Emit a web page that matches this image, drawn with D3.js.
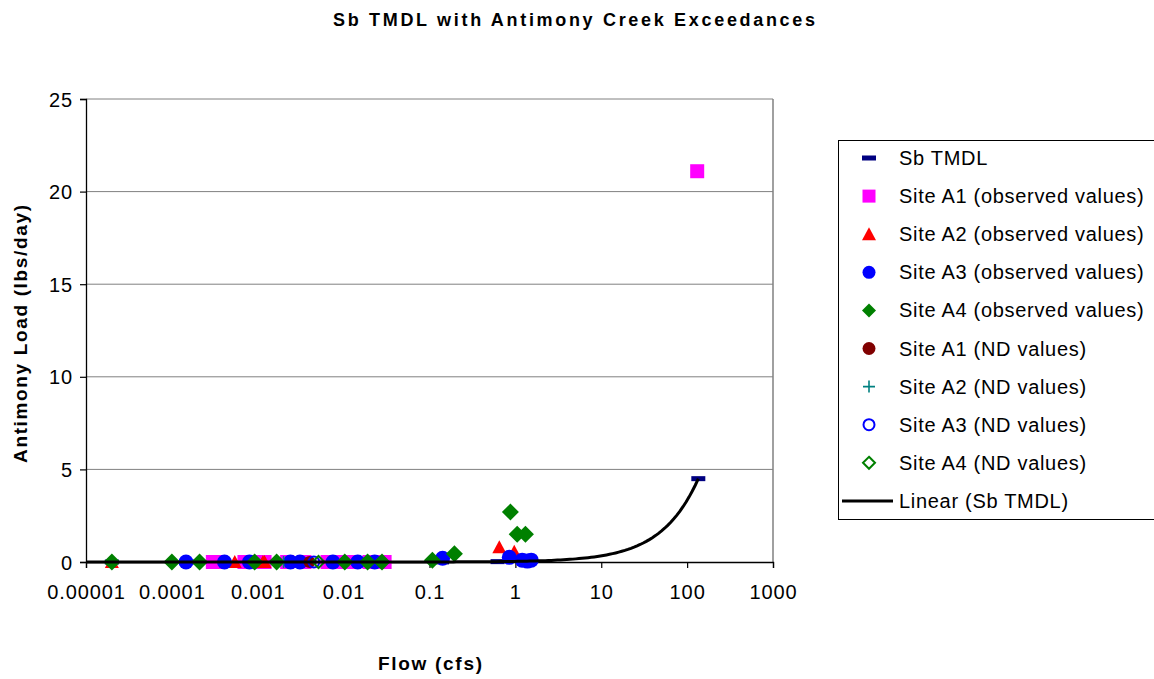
<!DOCTYPE html>
<html><head><meta charset="utf-8">
<script src="https://cdn.jsdelivr.net/npm/d3@7"></script>
<style>body{margin:0;background:#fff}svg{display:block;font-family:"Liberation Sans",Arial,sans-serif}</style>
</head><body><svg id="c" width="1154" height="679"></svg>
<script>
// ---------- data (flow in cfs, load in lbs/day) ----------
const xTickValues = [1e-5,1e-4,1e-3,1e-2,1e-1,1,10,100,1000];
const xTickLabels = ["0.00001","0.0001","0.001","0.01","0.1","1","10","100","1000"];
const yTickValues = [0,5,10,15,20,25];

const tmdlFlow = [0.00002,0.00015,0.0003,0.0009,0.002,0.004,0.01,0.028,0.14,0.62,1.5,135];
const tmdlLoad = [0,0,0,0,0,0,0,0.001,0.005,0.02,0.05,4.5];

const a1ObsFlow = [0.0003,0.00036,0.0007,0.00085,0.0012,0.0022,0.0035,0.0065,0.009,0.013,0.02,0.028,0.03,131];
const a1ObsLoad = [0,0,0,0,0,0,0,0,0,0,0,0,0,21.1];

const a2ObsFlow = [0.00002,0.00054,0.00115,0.0012,0.65,0.97];
const a2ObsLoad = [0,0,0,0,0.8,0.55];

const a3ObsFlow = [0.000146,0.00041,0.0008,0.0024,0.0031,0.0075,0.0146,0.023,0.142,0.85,1.2,1.38,1.53];
const a3ObsLoad = [0,0,0,0,0,0,0,0,0.2,0.25,0.1,0.05,0.1];

const a4ObsFlow = [0.00002,0.0001,0.00021,0.00092,0.00166,0.0103,0.019,0.028,0.108,0.195,0.875,1.05,1.31];
const a4ObsLoad = [0,0,0,0,0,0,0,0,0.1,0.45,2.7,1.5,1.5];

const a1NdFlow = [0.004];  const a1NdLoad = [0];
const a2NdFlow = [0.002];  const a2NdLoad = [0];
const a3NdFlow = [0.0045]; const a3NdLoad = [0];
const a4NdFlow = [0.0051]; const a4NdLoad = [0];

const legendLabels = ["Sb TMDL","Site A1 (observed values)","Site A2 (observed values)","Site A3 (observed values)",
  "Site A4 (observed values)","Site A1 (ND values)","Site A2 (ND values)","Site A3 (ND values)","Site A4 (ND values)","Linear (Sb TMDL)"];

// ---------- chart ----------
const svg = d3.select("#c");
svg.append("rect").attr("width",1154).attr("height",679).attr("fill","#fff");
const L=86, R=773, T=99, B=562;
const x = d3.scaleLog().domain([1e-5,1e3]).range([L,R]);
const y = d3.scaleLinear().domain([0,25]).range([B,T]);

// gridlines
svg.append("g").selectAll("line").data(yTickValues.filter(v=>v>0)).join("line")
  .attr("x1",L).attr("x2",R).attr("y1",d=>y(d)).attr("y2",d=>y(d))
  .attr("stroke","#808080").attr("stroke-width",1);
svg.append("line").attr("x1",R).attr("x2",R).attr("y1",T).attr("y2",B).attr("stroke","#808080").attr("stroke-width",1.5);

// axes
const yAxis = svg.append("g").attr("transform",`translate(${L},0)`)
  .call(d3.axisLeft(y).tickValues(yTickValues).tickSize(6).tickPadding(8).tickFormat(d3.format("d")));
const xAxis = svg.append("g").attr("transform",`translate(0,${B})`)
  .call(d3.axisBottom(x).tickValues(xTickValues).tickSize(6).tickFormat((d,i)=>xTickLabels[i]));
[yAxis,xAxis].forEach(g=>{
  g.select(".domain").attr("stroke","#000").attr("stroke-width",1.3);
  g.selectAll(".tick line").attr("stroke","#000").attr("stroke-width",1.2);
  g.selectAll("text").attr("font-size",20).attr("letter-spacing","0.9px").attr("fill","#000")
    .attr("font-family","Liberation Sans, Arial, sans-serif");
});
xAxis.selectAll("text").attr("y",30).attr("dy","0.35em");
yAxis.selectAll("text").attr("x",-13).attr("dy","0.35em");

const plot = svg.append("g");
function pts(fx, ly){ return fx.map((f,i)=>[x(f), y(ly[i])]); }

plot.append("g").selectAll("rect").data(pts(tmdlFlow,tmdlLoad)).join("rect")
  .attr("x",d=>d[0]-7).attr("y",d=>d[1]-2.5).attr("width",14).attr("height",5).attr("fill","#000080");
plot.append("g").selectAll("rect").data(pts(a1ObsFlow,a1ObsLoad)).join("rect")
  .attr("x",d=>d[0]-7).attr("y",d=>d[1]-7).attr("width",14).attr("height",14).attr("fill","#ff00ff");
plot.append("g").selectAll("path").data(pts(a2ObsFlow,a2ObsLoad)).join("path")
  .attr("transform",d=>`translate(${d[0]},${d[1]})`).attr("d","M0,-7L7,6L-7,6Z").attr("fill","#ff0000");
plot.append("g").selectAll("circle").data(pts(a3ObsFlow,a3ObsLoad)).join("circle")
  .attr("cx",d=>d[0]).attr("cy",d=>d[1]).attr("r",7.5).attr("fill","#0000ff");
plot.append("g").selectAll("path").data(pts(a4ObsFlow,a4ObsLoad)).join("path")
  .attr("transform",d=>`translate(${d[0]},${d[1]})`).attr("d","M0,-8.5L8.5,0L0,8.5L-8.5,0Z").attr("fill","#008000");
plot.append("g").selectAll("circle").data(pts(a1NdFlow,a1NdLoad)).join("circle")
  .attr("cx",d=>d[0]).attr("cy",d=>d[1]).attr("r",6).attr("fill","#800000");
plot.append("g").selectAll("path").data(pts(a2NdFlow,a2NdLoad)).join("path")
  .attr("transform",d=>`translate(${d[0]},${d[1]})`).attr("d","M-6,0H6M0,-6V6").attr("stroke","#008080").attr("stroke-width",1.6).attr("fill","none");
plot.append("g").selectAll("circle").data(pts(a3NdFlow,a3NdLoad)).join("circle")
  .attr("cx",d=>d[0]).attr("cy",d=>d[1]).attr("r",5.5).attr("fill","none").attr("stroke","#0000ff").attr("stroke-width",2);
plot.append("g").selectAll("path").data(pts(a4NdFlow,a4NdLoad)).join("path")
  .attr("transform",d=>`translate(${d[0]},${d[1]})`).attr("d","M0,-6L6,0L0,6L-6,0Z").attr("fill","none").attr("stroke","#008000").attr("stroke-width",2);

// Linear trendline fitted to Sb TMDL (least squares)
const mx = d3.mean(tmdlFlow), my = d3.mean(tmdlLoad);
const slope = d3.sum(tmdlFlow.map((f,i)=>(f-mx)*(tmdlLoad[i]-my))) / d3.sum(tmdlFlow.map(f=>(f-mx)*(f-mx)));
const icpt = my - slope*mx;
const lo = Math.log10(1e-5), hi = Math.log10(d3.max(tmdlFlow));
const trendX = d3.range(0,201).map(i=>Math.pow(10, lo + i/200*(hi-lo)));
plot.append("path").datum(trendX)
  .attr("d", d3.line().x(f=>x(f)).y(f=>y(Math.max(0,slope*f+icpt))))
  .attr("fill","none").attr("stroke","#000").attr("stroke-width",3);

// titles
svg.append("text").attr("x",574).attr("y",26).attr("text-anchor","middle").attr("font-weight","bold")
  .attr("font-size",18).attr("textLength",482).attr("lengthAdjust","spacing").text("Sb TMDL with Antimony Creek Exceedances");
svg.append("text").attr("x",430).attr("y",670).attr("text-anchor","middle").attr("font-weight","bold")
  .attr("font-size",19).attr("textLength",104).attr("lengthAdjust","spacing").text("Flow (cfs)");
svg.append("text").attr("transform","translate(27,334) rotate(-90)").attr("text-anchor","middle").attr("font-weight","bold")
  .attr("font-size",19).attr("textLength",258).attr("lengthAdjust","spacing").text("Antimony Load (lbs/day)");

// legend
const lg = svg.append("g");
lg.append("rect").attr("x",838.5).attr("y",140.5).attr("width",330).attr("height",379).attr("fill","#fff").attr("stroke","#000").attr("stroke-width",1);
const ly0 = 158, ldy = 38.1, lx = 869;
legendLabels.forEach((lab,i)=>{
  const cy = ly0 + i*ldy;
  const g = lg.append("g").attr("transform",`translate(${lx},${cy})`);
  if(i===0) g.append("rect").attr("x",-7).attr("y",-2.5).attr("width",14).attr("height",5).attr("fill","#000080");
  if(i===1) g.append("rect").attr("x",-6.5).attr("y",-6.5).attr("width",13).attr("height",13).attr("fill","#ff00ff");
  if(i===2) g.append("path").attr("d","M0,-7L7,6L-7,6Z").attr("fill","#ff0000");
  if(i===3) g.append("circle").attr("r",6.5).attr("fill","#0000ff");
  if(i===4) g.append("path").attr("d","M0,-7L7,0L0,7L-7,0Z").attr("fill","#008000");
  if(i===5) g.append("circle").attr("r",6.5).attr("fill","#800000");
  if(i===6) g.append("path").attr("d","M-6,0H6M0,-6V6").attr("stroke","#008080").attr("stroke-width",1.6);
  if(i===7) g.append("circle").attr("r",5.5).attr("fill","none").attr("stroke","#0000ff").attr("stroke-width",2);
  if(i===8) g.append("path").attr("d","M0,-6L6,0L0,6L-6,0Z").attr("fill","none").attr("stroke","#008000").attr("stroke-width",2);
  if(i===9) g.append("line").attr("x1",-27).attr("x2",24).attr("stroke","#000").attr("stroke-width",3);
  lg.append("text").attr("x",899).attr("y",cy).attr("dy","0.35em").attr("font-size",20).attr("letter-spacing","0.7px")
    .attr("fill","#000").text(lab);
});
</script></body></html>
